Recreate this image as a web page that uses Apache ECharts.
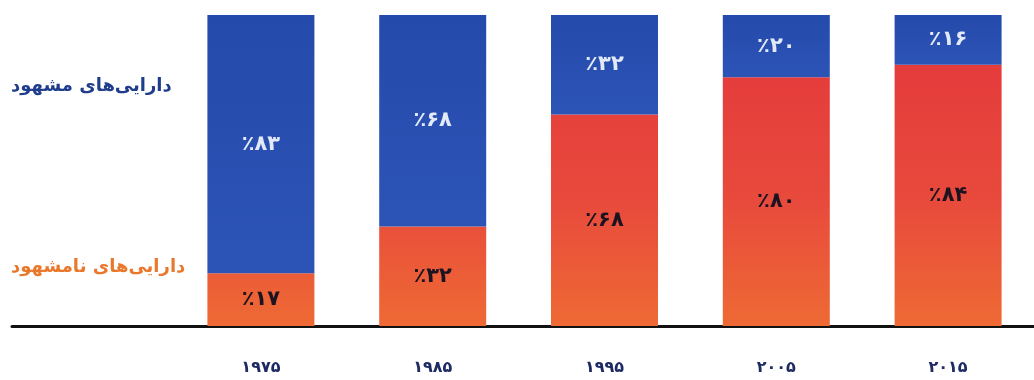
<!DOCTYPE html>
<html>
<head>
<meta charset="utf-8">
<script src="https://cdn.jsdelivr.net/npm/echarts@6/dist/echarts.min.js"></script>
<style>
  html, body { margin: 0; padding: 0; background: #ffffff; }
  #chart { width: 1034px; height: 380px; }
</style>
</head>
<body>
<div id="chart"></div>
<script>
// Share of tangible vs. intangible assets by year (percent)
const years = ['۱۹۷۵', '۱۹۸۵', '۱۹۹۵', '۲۰۰۵', '۲۰۱۵'];
const intangible = [17, 32, 68, 80, 84];
const tangible = [83, 68, 32, 20, 16];
const tangibleName = 'دارایی‌های مشهود';
const intangibleName = 'دارایی‌های نامشهود';

const FONT = "'DejaVu Sans', 'Noto Sans', sans-serif";
const faDigits = '۰۱۲۳۴۵۶۷۸۹';
const toFa = n => String(n).replace(/\d/g, d => faDigits[d]);
const pct = p => '٪' + toFa(p.value);

const chart = echarts.init(document.getElementById('chart'));

const redFill = new echarts.graphic.LinearGradient(0, 14, 0, 326, [
  { offset: 0, color: '#e3363b' },
  { offset: 0.6, color: '#e84a3c' },
  { offset: 1, color: '#ee6a34' }
], true);
const blueFill = new echarts.graphic.LinearGradient(0, 0, 0, 1, [
  { offset: 0, color: '#244aab' },
  { offset: 1, color: '#2c54b6' }
]);

chart.setOption({
  backgroundColor: '#ffffff',
  animation: false,
  grid: [
    { left: 175, right: -11, top: 15, bottom: 54 },
    { left: 12, right: 0, top: 15, bottom: 54 }
  ],
  xAxis: [
    {
      type: 'category', gridIndex: 0, data: years,
      axisLine: { show: false }, axisTick: { show: false },
      axisLabel: {
        margin: 34, fontFamily: FONT, fontSize: 16, fontWeight: 'bold',
        color: '#1d2a63'
      }
    },
    {
      type: 'value', gridIndex: 1, min: 0, max: 1, offset: 2,
      axisLine: { show: true, lineStyle: { color: '#111111', width: 3 } },
      axisTick: { show: false }, axisLabel: { show: false },
      splitLine: { show: false }
    }
  ],
  yAxis: [
    { type: 'value', gridIndex: 0, min: 0, max: 100, show: false },
    { type: 'value', gridIndex: 1, min: 0, max: 1, show: false }
  ],
  graphic: [
    {
      type: 'text', left: 11, top: 77,
      style: {
        text: tangibleName, fill: '#1f3d8c', font: 'bold 18px ' + FONT
      }
    },
    {
      type: 'text', left: 11, top: 258,
      style: {
        text: intangibleName, fill: '#e9782b', font: 'bold 18px ' + FONT
      }
    }
  ],
  series: [
    {
      name: intangibleName, type: 'bar', stack: 'total',
      xAxisIndex: 0, yAxisIndex: 0, data: intangible, barWidth: 107,
      itemStyle: { color: redFill },
      label: {
        show: true, position: 'inside', formatter: pct,
        fontFamily: FONT, fontSize: 21, fontWeight: 'bold', color: '#1b1420'
      }
    },
    {
      name: tangibleName, type: 'bar', stack: 'total',
      xAxisIndex: 0, yAxisIndex: 0, data: tangible, barWidth: 107,
      itemStyle: { color: blueFill },
      label: {
        show: true, position: 'inside', formatter: pct,
        fontFamily: FONT, fontSize: 21, fontWeight: 'bold', color: '#e3eaf7'
      }
    }
  ]
});
</script>
</body>
</html>
